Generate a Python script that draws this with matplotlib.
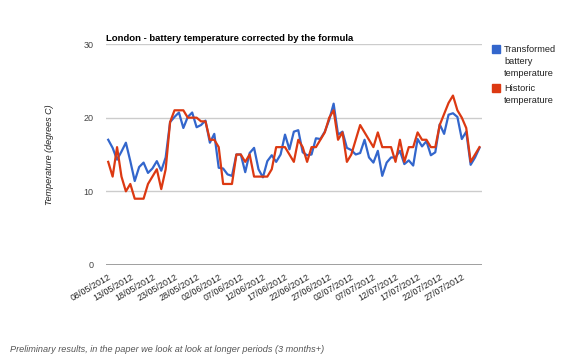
import matplotlib
matplotlib.use('agg')
import matplotlib.pyplot as plt
from matplotlib.patches import Rectangle
import pandas as pd

# daily values 08/05/2012 .. 31/07/2012
dates = pd.date_range('2012-05-08', '2012-07-31', freq='D')

transformed = [17.0, 15.9, 14.3, 15.4, 16.6, 14.1, 11.4, 13.3, 13.9, 12.5,
               13.1, 14.1, 12.8, 14.6, 19.4, 20.1, 20.7, 18.6, 20.1, 20.7,
               18.7, 19.0, 19.6, 16.6, 17.8, 13.2, 13.1, 12.3, 12.1, 15.0,
               15.0, 12.6, 15.2, 15.9, 13.0, 11.9, 14.1, 14.9, 14.0, 15.0,
               17.7, 15.7, 18.1, 18.3, 15.3, 14.9, 15.0, 17.2, 17.1, 18.1,
               19.7, 21.9, 17.7, 18.1, 15.9, 15.6, 15.0, 15.2, 17.0, 14.6,
               13.9, 15.5, 12.1, 13.9, 14.6, 14.6, 15.5, 13.7, 14.2, 13.5,
               17.1, 16.1, 16.8, 14.9, 15.3, 19.1, 17.8, 20.4, 20.6, 20.1,
               17.1, 18.1, 13.6, 14.6, 15.9]

historic = [14, 12, 16, 12, 10, 11, 9, 9, 9, 11,
            12, 13, 10.3, 13, 19.4, 21, 21, 21, 20, 20,
            20, 19.5, 19.5, 17, 17, 16, 11, 11, 11, 15,
            15, 14, 15, 12, 12, 12, 12, 13, 16, 16,
            16, 15, 14, 17, 16, 14, 16, 16, 17, 18,
            20, 21, 17, 18, 14, 15, 17, 19, 18, 17,
            16, 18, 16, 16, 16, 14, 17, 14, 16, 16,
            18, 17, 17, 16, 16, 19, 20.5, 22, 23, 21,
            20, 18.6, 14, 15, 16]

series_names = ['Transformed\nbattery\ntemperature', 'Historic\ntemperature']
colors = ['#3366cc', '#dc3912']

labels = [d.strftime('%d/%m/%Y') for d in dates]

plt.rcParams['font.family'] = ['Liberation Sans', 'DejaVu Sans']

W, H = 580, 363
fig = plt.figure(figsize=(W / 100, H / 100), dpi=100)
ax = fig.add_axes([106/W, 1 - 265/H, (481.7 - 106)/W, (265 - 44)/H])

x = range(len(dates))
ax.plot(x, transformed, color=colors[0], lw=1.6)
ax.plot(x, historic, color=colors[1], lw=1.6)

ax.set_xlim(-0.5, len(dates) - 0.5)
ax.set_ylim(0, 30)
ax.set_yticks([0, 10, 20, 30])
ax.grid(axis='y', color='#cccccc', lw=1)
ax.axhline(0, color='#999999', lw=1.3)
ax.set_axisbelow(True)
for s in ax.spines.values():
    s.set_visible(False)

ticks = list(range(0, len(dates), 5))
ax.set_xticks(ticks)
ax.set_xticklabels([labels[i] for i in ticks], rotation=30, ha='right',
                   rotation_mode='anchor', fontsize=6.4, color='#222222')
ax.tick_params(axis='x', length=0, pad=5)
ax.tick_params(axis='y', length=0, pad=9, labelsize=6.5, labelcolor='#444444')

ax.set_ylabel('Temperature (degrees C)', fontsize=6.5, style='italic',
              color='#222222', labelpad=21)
ax.set_title('London - battery temperature corrected by the formula',
             loc='left', fontsize=6.8, fontweight='bold', pad=2.5)

# legend: square + wrapped text, drawn by hand
for name, c, top in zip(series_names, colors, [45, 84]):
    fig.add_artist(Rectangle((492/W, 1 - (top + 8)/H), 8/W, 8/H,
                             transform=fig.transFigure, color=c))
    fig.text(504/W, 1 - top/H, name, fontsize=6.7, color='#222222',
             va='top', ha='left', linespacing=1.4)

fig.text(10/W, 1 - 350/H,
         'Preliminary results, in the paper we look at look at longer periods (3 months+)',
         fontsize=6.6, style='italic', color='#555555', va='center')

fig.savefig('out.png', dpi=100)
